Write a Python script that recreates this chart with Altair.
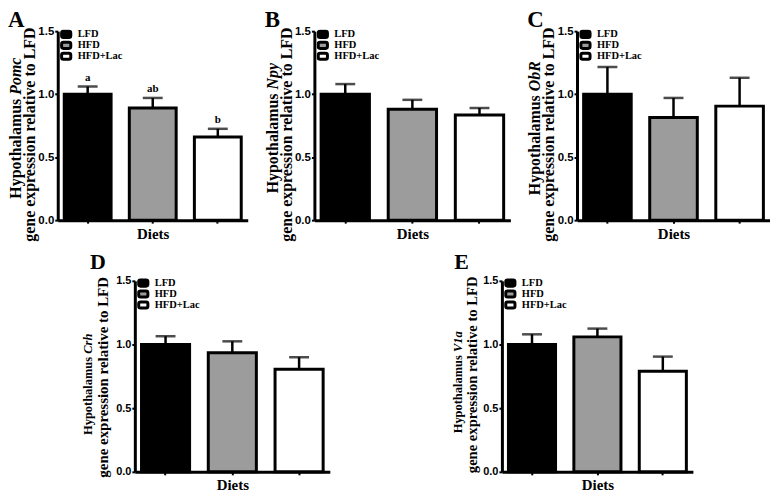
import altair as alt
import pandas as pd

groups = ["LFD", "HFD", "HFD+Lac"]
colors = ["#000000", "#9c9c9c", "#ffffff"]

a_mean = [1.00, 0.89, 0.66]
a_err = [0.06, 0.08, 0.065]
a_sig = ["a", "ab", "b"]

b_mean = [1.00, 0.88, 0.835]
b_err = [0.08, 0.075, 0.055]

c_mean = [1.00, 0.815, 0.905]
c_err = [0.215, 0.155, 0.225]

d_mean = [1.00, 0.935, 0.805]
d_err = [0.065, 0.09, 0.095]

e_mean = [1.00, 1.06, 0.79]
e_err = [0.08, 0.065, 0.115]

line1_word = "Hypothalamus"
line2_text = "gene expression relative to LFD"

SERIF = "Liberation Serif"
SANS = "Liberation Sans"

# em widths (Times-compatible metrics) to place the italic gene name after "Hypothalamus "
HYPO_EM = 6.529
GENE_EM = {"Pomc": 2.333, "Npy": 1.666, "ObR": 1.889, "Crh": 1.612, "V1a": 1.667}

ROUNDED = ("M-0.6,-0.67 L0.6,-0.67 A0.4,0.4 0 0 1 1,-0.27 L1,0.27 A0.4,0.4 0 0 1 0.6,0.67 "
           "L-0.6,0.67 A0.4,0.4 0 0 1 -1,0.27 L-1,-0.27 A0.4,0.4 0 0 1 -0.6,-0.67 Z")


def txt(text, x, y, size, align="center", angle=0, style="normal", baseline="bottom"):
    return alt.Chart(pd.DataFrame({"t": [text]})).mark_text(
        font=SERIF, fontWeight="bold", fontStyle=style, fontSize=size, color="black",
        align=align, baseline=baseline, angle=angle,
    ).encode(text="t:N", x=alt.value(x), y=alt.value(y))


def panel(letter, gene, mean, err, sig, width, height, lay):
    df = pd.DataFrame({
        "group": groups,
        "mean": mean,
        "upper": [m + e for m, e in zip(mean, err)],
        "sig": sig if sig else ["", "", ""],
    })
    x = alt.X(
        "group:N", sort=groups,
        scale=alt.Scale(paddingInner=0.28, paddingOuter=0.1),
        axis=alt.Axis(title="Diets", labels=False, domainWidth=3, domainColor="black",
                      tickColor="black", tickSize=3, tickWidth=2,
                      titleFont=SERIF, titleFontWeight="bold", titleFontSize=15,
                      titleColor="black", titlePadding=2),
    )
    yscale = alt.Scale(domain=[0, 1.5], nice=False)
    base = alt.Chart(df).encode(x=x)
    bars = base.mark_bar(stroke="black", strokeWidth=3).encode(
        y=alt.Y("mean:Q", scale=yscale,
                axis=alt.Axis(values=[0, 0.5, 1.0, 1.5], format=".1f", grid=False, title=None,
                              labelFont=SANS, labelFontWeight="bold", labelFontSize=lay["tick"],
                              labelColor="black", labelPadding=1,
                              domainWidth=3, domainColor="black", tickColor="black",
                              tickSize=3, tickWidth=2)),
        color=alt.Color("group:N", sort=groups,
                        scale=alt.Scale(domain=groups, range=colors),
                        legend=alt.Legend(title=None, orient="none", legendX=2, legendY=lay["legY"],
                                          symbolType=ROUNDED, symbolSize=85,
                                          symbolStrokeColor="black", symbolStrokeWidth=3,
                                          labelFont=SERIF, labelFontWeight="bold",
                                          labelFontSize=10.5, labelColor="black",
                                          rowPadding=0, clipHeight=10.5, labelOffset=5)),
    )
    rule = base.mark_rule(strokeWidth=2.5, color="black").encode(
        y=alt.Y("mean:Q", scale=yscale), y2="upper:Q")
    cap = base.mark_tick(orient="horizontal", size=20, thickness=2.5, color="black").encode(
        y=alt.Y("upper:Q", scale=yscale))
    layers = [bars, rule, cap]
    if sig:
        layers.append(base.mark_text(font=SERIF, fontWeight="bold", fontSize=11, dy=-9,
                                     color="black").encode(
            y=alt.Y("upper:Q", scale=yscale), text="sig:N"))
    # panel letter
    layers.append(txt(letter, lay["lx"], lay["ly"], lay["lsize"], align="left",
                      baseline="alphabetic"))
    # y title line 2
    layers.append(txt(line2_text, lay["x2"], lay["c2"], lay["fs2"], angle=270))
    # y title line 1: "Hypothalamus" + italic gene
    fs1 = lay["fs1"]
    total = (HYPO_EM + GENE_EM[gene]) * fs1
    start = lay["c1"] + total / 2
    layers.append(txt(line1_word, lay["x1"], start, fs1, align="left", angle=270))
    layers.append(txt(gene, lay["x1"], start - HYPO_EM * fs1, fs1, align="left", angle=270,
                      style="italic"))
    return alt.layer(*layers).properties(width=width, height=height).resolve_scale(color="independent")


top_lay = dict(tick=11.5, legY=-2, lx=-50, ly=-4, lsize=23,
               x1=-34, c1=97.5, fs1=16, x2=-20, c2=104, fs2=16)
d_lay = dict(tick=11, legY=-3, lx=-45, ly=-12, lsize=22,
             x1=-40, c1=104, fs1=12.5, x2=-24, c2=97, fs2=15)
e_lay = dict(tick=11, legY=-3, lx=-48, ly=-12, lsize=22,
             x1=-37, c1=102, fs1=12.5, x2=-22, c2=94.5, fs2=14.7)

pA = panel("A", "Pomc", a_mean, a_err, a_sig, 191, 190, top_lay)
pB = panel("B", "Npy", b_mean, b_err, None, 197, 190, top_lay)
pC = panel("C", "ObR", c_mean, c_err, None, 194, 190, top_lay)
pD = panel("D", "Crh", d_mean, d_err, None, 196, 192, d_lay)
pE = panel("E", "V1a", e_mean, e_err, None, 192, 192, e_lay)

top = alt.hconcat(pA, pB, pC, spacing=17).resolve_scale(color="independent").resolve_legend(color="independent")
bottom = alt.hconcat(pD, pE, spacing=122).resolve_scale(color="independent").resolve_legend(color="independent")

chart = alt.vconcat(top, bottom, spacing=9, center=True).resolve_scale(
    color="independent").resolve_legend(color="independent").properties(
    padding=0).configure_view(stroke=None)

chart.save("out.html", embed_options={"renderer": "svg", "actions": False})
